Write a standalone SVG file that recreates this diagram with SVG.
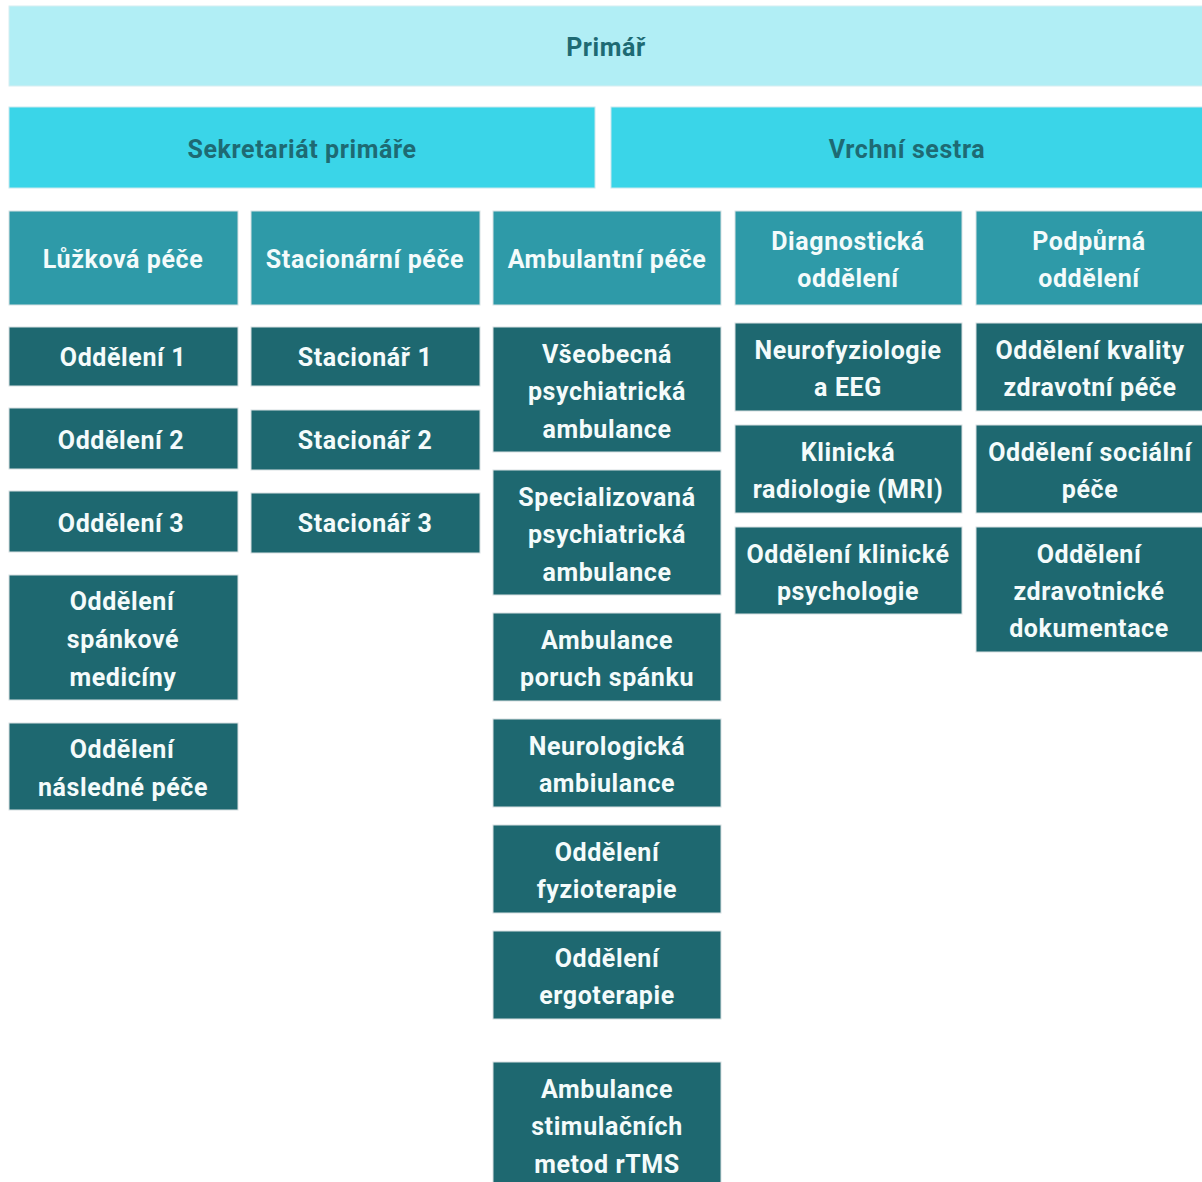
<svg xmlns="http://www.w3.org/2000/svg" width="1202" height="1182" viewBox="0 0 1202 1182">
<style>
text{font-family:Roboto,"Liberation Sans",sans-serif;font-weight:700;text-anchor:middle;dominant-baseline:central;letter-spacing:0.6px}
.top rect{fill:#b1eef5;stroke:#d6eef1;stroke-width:1}
.mid rect{fill:#3ad5e8;stroke:#c8e8ee;stroke-width:1}
.hdr rect{fill:#2e9aa8;stroke:#d8e2e4;stroke-width:1}
.leaf rect{fill:#1e6870;stroke:#d8e0e2;stroke-width:1}
.top text,.mid text{fill:#1e6a73;font-size:25px}
.hdr text,.leaf text{fill:#f4fbfb;font-size:25px}
</style>
<rect width="1202" height="1182" fill="#ffffff"/>
<g id="connectors"></g>
<g id="primar" class="top"><rect x="9" y="6" width="1200" height="80"/><text x="606" y="47">Primář</text></g>
<g id="sekretariat" class="mid"><rect x="9" y="107" width="586" height="81"/><text x="302" y="149">Sekretariát primáře</text></g>
<g id="vrchni" class="mid"><rect x="611" y="107" width="598" height="81"/><text x="907" y="149">Vrchní sestra</text></g>

<g id="luzkova" class="hdr"><rect x="9" y="211" width="229" height="94"/><text x="123" y="259">Lůžková péče</text></g>
<g id="stacionarni" class="hdr"><rect x="251" y="211" width="229" height="94"/><text x="365" y="259">Stacionární péče</text></g>
<g id="ambulantni" class="hdr"><rect x="493" y="211" width="228" height="94"/><text x="607" y="259">Ambulantní péče</text></g>
<g id="diagnosticka" class="hdr"><rect x="735" y="211" width="227" height="94"/><text x="848" y="241">Diagnostická</text><text x="848" y="278">oddělení</text></g>
<g id="podpurna" class="hdr"><rect x="976" y="211" width="230" height="94"/><text x="1089" y="241">Podpůrná</text><text x="1089" y="278">oddělení</text></g>

<g id="odd1" class="leaf"><rect x="9" y="327" width="229" height="59"/><text x="123" y="357">Oddělení 1</text></g>
<g id="odd2" class="leaf"><rect x="9" y="408" width="229" height="61"/><text x="121" y="440">Oddělení 2</text></g>
<g id="odd3" class="leaf"><rect x="9" y="491" width="229" height="61"/><text x="121" y="523">Oddělení 3</text></g>
<g id="spankove" class="leaf"><rect x="9" y="575" width="229" height="125"/><text x="122" y="601">Oddělení</text><text x="123" y="639">spánkové</text><text x="123" y="677">medicíny</text></g>
<g id="nasledne" class="leaf"><rect x="9" y="723" width="229" height="87"/><text x="122" y="749">Oddělení</text><text x="123" y="787">následné péče</text></g>

<g id="stac1" class="leaf"><rect x="251" y="327" width="229" height="59"/><text x="365" y="357">Stacionář 1</text></g>
<g id="stac2" class="leaf"><rect x="251" y="410" width="229" height="60"/><text x="365" y="440">Stacionář 2</text></g>
<g id="stac3" class="leaf"><rect x="251" y="493" width="229" height="60"/><text x="365" y="523">Stacionář 3</text></g>

<g id="vseobecna" class="leaf"><rect x="493" y="327" width="228" height="125"/><text x="607" y="354">Všeobecná</text><text x="607" y="391">psychiatrická</text><text x="607" y="429">ambulance</text></g>
<g id="specializovana" class="leaf"><rect x="493" y="470" width="228" height="125"/><text x="607" y="497">Specializovaná</text><text x="607" y="534">psychiatrická</text><text x="607" y="572">ambulance</text></g>
<g id="spanku" class="leaf"><rect x="493" y="613" width="228" height="88"/><text x="607" y="640">Ambulance</text><text x="607" y="677">poruch spánku</text></g>
<g id="neurologicka" class="leaf"><rect x="493" y="719" width="228" height="88"/><text x="607" y="746">Neurologická</text><text x="607" y="783">ambiulance</text></g>
<g id="fyzioterapie" class="leaf"><rect x="493" y="825" width="228" height="88"/><text x="607" y="852">Oddělení</text><text x="607" y="889">fyzioterapie</text></g>
<g id="ergoterapie" class="leaf"><rect x="493" y="931" width="228" height="88"/><text x="607" y="958">Oddělení</text><text x="607" y="995">ergoterapie</text></g>
<g id="rtms" class="leaf"><rect x="493" y="1062" width="228" height="130"/><text x="607" y="1089">Ambulance</text><text x="607" y="1126">stimulačních</text><text x="607" y="1164">metod rTMS</text></g>

<g id="neurofyziologie" class="leaf"><rect x="735" y="323" width="227" height="88"/><text x="848" y="350">Neurofyziologie</text><text x="848" y="387">a EEG</text></g>
<g id="radiologie" class="leaf"><rect x="735" y="425" width="227" height="88"/><text x="848" y="452">Klinická</text><text x="848" y="489">radiologie (MRI)</text></g>
<g id="psychologie" class="leaf"><rect x="735" y="527" width="227" height="87"/><text x="848" y="554">Oddělení klinické</text><text x="848" y="591">psychologie</text></g>

<g id="kvality" class="leaf"><rect x="976" y="323" width="230" height="88"/><text x="1090" y="350">Oddělení kvality</text><text x="1090" y="387">zdravotní péče</text></g>
<g id="socialni" class="leaf"><rect x="976" y="425" width="230" height="88"/><text x="1090" y="452">Oddělení sociální</text><text x="1090" y="489">péče</text></g>
<g id="dokumentace" class="leaf"><rect x="976" y="527" width="230" height="125"/><text x="1089" y="554">Oddělení</text><text x="1089" y="591">zdravotnické</text><text x="1089" y="628">dokumentace</text></g>
</svg>
